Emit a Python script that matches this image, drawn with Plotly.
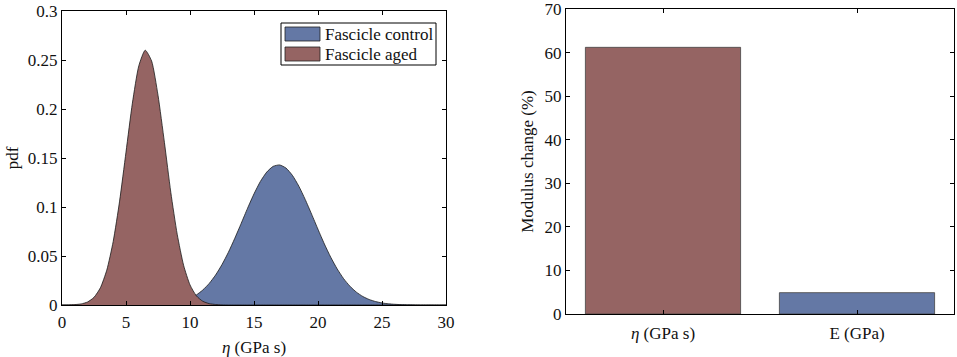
import plotly.graph_objects as go
from plotly.subplots import make_subplots

# ---- data ----
eta_x = [0, 0.5, 1, 1.5, 2, 2.5, 3, 3.5, 4, 4.5, 5, 5.5, 6, 6.5, 7, 7.5, 8, 8.5, 9, 9.5,
         10, 10.5, 11, 11.5, 12, 12.5, 13, 13.5, 14, 14.5, 15, 15.5, 16, 16.5, 17, 17.5,
         18, 18.5, 19, 19.5, 20, 20.5, 21, 21.5, 22, 22.5, 23, 23.5, 24, 24.5, 25, 25.5,
         26, 26.5, 27, 27.5, 28, 28.5, 29, 29.5, 30]

pdf_control = [0, 0, 0, 0, 0, 0, 0, 0, 0, 0, 0, 0, 0, 0.0001, 0.0003, 0.0005, 0.0009, 0.0015,
               0.0026, 0.0042, 0.0067, 0.0103, 0.0153, 0.0220, 0.0306, 0.0413, 0.0538, 0.0681,
               0.0833, 0.0988, 0.1134, 0.1261, 0.1357, 0.1415, 0.1429, 0.1397, 0.1323, 0.1213,
               0.1077, 0.0927, 0.0772, 0.0622, 0.0486, 0.0368, 0.0269, 0.0191, 0.0131, 0.0087,
               0.0056, 0.0035, 0.0021, 0.0012, 0.0007, 0.0004, 0.0002, 0.0001, 0, 0, 0, 0, 0]

pdf_aged = [0.0000, 0.0001, 0.0004, 0.0011, 0.0031, 0.0078, 0.0176, 0.0356, 0.0648, 0.106,
            0.156, 0.206, 0.244, 0.260, 0.249, 0.214, 0.166, 0.115, 0.0722, 0.0405, 0.0205,
            0.0093, 0.0038, 0.0014, 0.0005, 0.0001, 0, 0, 0, 0, 0, 0, 0, 0, 0, 0, 0, 0, 0, 0,
            0, 0, 0, 0, 0, 0, 0, 0, 0, 0, 0, 0, 0, 0, 0, 0, 0, 0, 0, 0, 0]

series_names = ["Fascicle control", "Fascicle aged"]

bar_categories = ["<i>η</i> (GPa s)", "E (GPa)"]
modulus_change = [61.2, 4.9]

# ---- style ----
BLUE = "#6478A5"
RED = "#956463"
EDGE = "#1a1a1a"
FONT = "Liberation Serif"
FS = 17
W, H = 957, 357

fig = make_subplots(rows=1, cols=2)

fig.add_trace(go.Scatter(x=eta_x, y=pdf_control, mode="lines", fill="tozeroy",
                         fillcolor=BLUE, line=dict(color=EDGE, width=0.8, shape="spline", smoothing=0.6),
                         name=series_names[0], showlegend=False), row=1, col=1)
fig.add_trace(go.Scatter(x=eta_x, y=pdf_aged, mode="lines", fill="tozeroy",
                         fillcolor=RED, line=dict(color=EDGE, width=0.8, shape="spline", smoothing=0.6),
                         name=series_names[1], showlegend=False), row=1, col=1)

fig.add_trace(go.Bar(x=bar_categories, y=modulus_change, marker=dict(color=[RED, BLUE],
                     line=dict(color="#444444", width=0.8)), width=0.8, showlegend=False),
              row=1, col=2)

axis_common = dict(showline=True, linecolor="black", linewidth=1, mirror="ticks",
                   ticks="inside", ticklen=4, tickcolor="black", showgrid=False, zeroline=False,
                   automargin=False, ticklabeloverflow="allow",
                   tickfont=dict(family=FONT, size=FS, color="#111111"),
                   title_font=dict(family=FONT, size=FS, color="#111111"))

fig.update_xaxes(axis_common, row=1, col=1)
fig.update_yaxes(axis_common, row=1, col=1)
fig.update_xaxes(axis_common, row=1, col=2)
fig.update_yaxes(axis_common, row=1, col=2)

fig.update_layout(
    width=W, height=H,
    margin=dict(l=0, r=0, t=0, b=0, autoexpand=False),
    paper_bgcolor="white", plot_bgcolor="white",
    font=dict(family=FONT, size=FS, color="#111111"),
    showlegend=False,
    xaxis=dict(domain=[62 / W, 446 / W], range=[0, 30], tickvals=[0, 5, 10, 15, 20, 25, 30],
               ticklabelstandoff=2,
               title=dict(text="<i>η</i> (GPa s)", standoff=9)),
    yaxis=dict(domain=[1 - 305 / H, 1 - 11 / H], range=[0, 0.3],
               tickvals=[0, 0.05, 0.1, 0.15, 0.2, 0.25, 0.3],
               ticktext=["0", "0.05", "0.1", "0.15", "0.2", "0.25", "0.3"],
               title=dict(text="pdf", standoff=4)),
    xaxis2=dict(domain=[566 / W, 954 / W], range=[-0.5, 1.5], ticklabelstandoff=4,
                title=dict(text="")),
    yaxis2=dict(domain=[1 - 314 / H, 1 - 9 / H], range=[0, 70],
                tickvals=[0, 10, 20, 30, 40, 50, 60, 70],
                title=dict(text="Modulus change (%)", standoff=6)),
    bargap=0.2,
)

# ---- manual legend (box, swatches, labels) ----
def px(x):
    return x / W

def py(y):
    return 1 - y / H

fig.add_shape(type="rect", xref="paper", yref="paper", x0=px(281), x1=px(436), y0=py(65), y1=py(23),
              line=dict(color="black", width=1), fillcolor="white", layer="above")
for i, (name, col) in enumerate(zip(series_names, [BLUE, RED])):
    top = 27 + i * 20
    fig.add_shape(type="rect", xref="paper", yref="paper", x0=px(285), x1=px(320),
                  y0=py(top + 14), y1=py(top), line=dict(color="#222222", width=0.8),
                  fillcolor=col, layer="above")
    fig.add_annotation(xref="paper", yref="paper", x=px(323), y=py(top + 7), text=name,
                       showarrow=False, xanchor="left", yanchor="middle",
                       font=dict(family=FONT, size=FS, color="#111111"))

fig.write_html("out.html", config={"displayModeBar": False},
               post_script="document.body.style.margin='0';document.body.style.overflow='hidden';")
